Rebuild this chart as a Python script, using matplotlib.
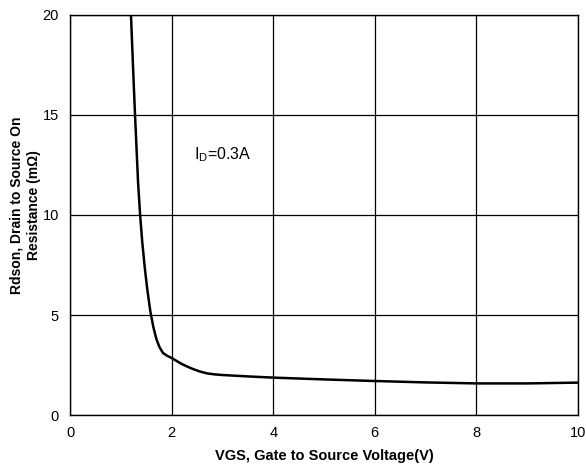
import matplotlib
matplotlib.use('Agg')
import matplotlib.pyplot as plt

# Rdson vs VGS curve
vgs = [1.20, 1.22, 1.25, 1.28, 1.31, 1.34, 1.38, 1.42, 1.47, 1.52, 1.58, 1.64, 1.70,
       1.76, 1.83, 1.92, 2.0, 2.1, 2.2, 2.3, 2.4, 2.55, 2.7, 2.85, 3.0, 3.5, 4.0, 5.0,
       6.0, 7.0, 8.0, 9.0, 10.0]
rdson = [20.0, 18.7, 16.8, 15.0, 13.3, 11.6, 10.0, 8.7, 7.4, 6.3, 5.2, 4.4, 3.8,
         3.4, 3.1, 2.95, 2.85, 2.7, 2.55, 2.43, 2.32, 2.18, 2.08, 2.03, 2.0, 1.93, 1.87, 1.78,
         1.7, 1.63, 1.58, 1.58, 1.62]

x_ticks = [0, 2, 4, 6, 8, 10]
y_ticks = [0, 5, 10, 15, 20]

plt.rcParams['font.family'] = ['Liberation Sans', 'DejaVu Sans']

fig = plt.figure(figsize=(5.86, 4.69), dpi=100)
ax = fig.add_axes([0.1195, 0.1151, 0.8668, 0.853])

ax.plot(vgs, rdson, color='black', linewidth=1.8, solid_capstyle='butt')

ax.set_xlim(0, 10)
ax.set_ylim(0, 20)
ax.set_xticks(x_ticks)
ax.set_yticks(y_ticks)
ax.tick_params(length=0, labelsize=10.5, pad=8)
ax.grid(True, color='black', linewidth=0.9)
ax.set_axisbelow(True)
for sp in ax.spines.values():
    sp.set_color('black')
    sp.set_linewidth(1.0)

ax.set_xlabel('VGS, Gate to Source Voltage(V)', fontsize=10.5, fontweight='bold')
ax.xaxis.set_label_coords(0.5, -0.085)
ax.set_ylabel('Rdson, Drain to Source On\nResistance (mΩ)', fontsize=10,
              fontweight='bold', linespacing=1.3)
ax.yaxis.set_label_coords(-0.058, 0.525)

ax.text(2.45, 13.0, r'I$_{\mathregular{D}}$=0.3A', fontsize=11.5, va='center', ha='left')

fig.savefig('out.png', dpi=100)
